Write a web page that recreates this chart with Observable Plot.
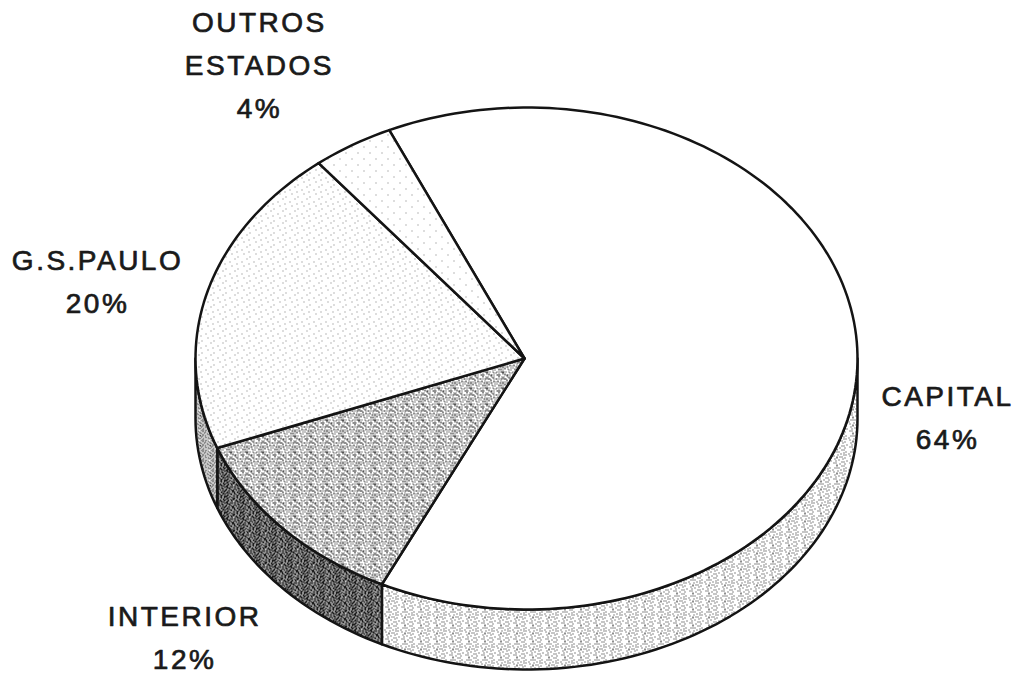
<!DOCTYPE html>
<html>
<head>
<meta charset="utf-8">
<script src="https://cdn.jsdelivr.net/npm/d3@7"></script>
<script src="https://cdn.jsdelivr.net/npm/@observablehq/plot@0.6"></script>
<style>
  html, body { margin: 0; padding: 0; background: #fff; }
  svg { display: block; }
</style>
</head>
<body>
<div id="chart"></div>
<script>
// --- data ---
const categories = ["CAPITAL", "INTERIOR", "G.S.PAULO", "OUTROS\nESTADOS"];
const shares = [64, 12, 20, 4];

// --- layout (pie units: 1 = one radius) ---
const startAngle = -24.5;       // degrees clockwise from the top of the ellipse
const depth = 0.239;
const apexX = -0.006;
const labelX = [1.272, -1.033, -1.296, -0.807];
const labelY = [0.221, 1.096, -0.323, -1.183];

const topFills = ["#fff", "url(#texMid)", "url(#texLight)", "url(#texFaint)"];
const wallFills = ["url(#texWall)", "url(#texDark)", "url(#texSide)", "none"];
const ink = "#141414";

// --- halftone tiles ---
const tiles = {
  texFaint: ["............","............","...#........","............","............","............",
             "............","............",".........#..","............","............","............"],
  texLight: ["............","...#........","............","............",".........#..","............",
             "......#.....","............","............",".#..........","............","........#..."],
  texMid:   ["..#.#...#..#....","..#.#.#.....#.#.","................","#.#.####.#..#...",
             "......#......#.#","..#...#.#.......","##.#....#.##.#..","..#.......#.....",
             "..#..#.#...#.#..","......#.....#...","#.#.##.###...#.#","..........#.....",
             ".#..#.....#..#..",".#....#.#....#.#","...##.#...##....","#.....#.#.....#."],
  texWall:  ["....#...........","....#....#.#....","................","..#.#.#......#..",
             "...........#....","#.......#.......",".....#.....#.#..",".#..............",
             "....#..#.#......","....#.......#...","..#.......#.....","......#.........",
             "...#..........#.",".........#.#....",".#.#............",".......#....#..."],
  texSide:  ["#.#..#.#..","..#.#...#.","#...#.#..#",".#.#...#..","..#..#.#.#",
             "#.#.#....#",".#...#.#..","#..#.#..#.","..#....#.#",".#.#.#...."],
  texDark:  ["###.####.#.###.#","#.###..####.##.#",".###.##.###.#.##","##.##.####.##.##",
             "#.###.##..####.#",".###.#.##.#.####","####.###.###.#.#","#.####.##.#.###.",
             ".##.###..###.###","###.#.####.##.#.","##.###.###.#.###","#.##.#.####.##.#",
             ".#####.#.##.####","##.#.###.###..##","#.###.##.#.####.","####.#..###.##.#"]
};

function makeDefs() {
  const defs = d3.create("svg:defs");
  for (const [id, rows] of Object.entries(tiles)) {
    const p = defs.append("pattern").attr("id", id)
      .attr("patternUnits", "userSpaceOnUse")
      .attr("width", rows[0].length).attr("height", rows.length);
    p.append("rect").attr("width", rows[0].length).attr("height", rows.length).attr("fill", "#fff");
    rows.forEach((row, j) => [...row].forEach((c, i) => {
      if (c === "#") p.append("rect").attr("x", i).attr("y", j)
        .attr("width", 1).attr("height", 1)
        .attr("fill", id === "texFaint" || id === "texLight" ? "#777" : "#1c1c1c");
    }));
  }
  return defs.node();
}

// --- geometry from the values ---
const rad = d => d * Math.PI / 180;
const rim = (a, dz = 0) => ({x: Math.sin(rad(a)), y: -Math.cos(rad(a)) + dz});
const arc = (a0, a1, dz = 0) => {
  const n = Math.max(2, Math.ceil(Math.abs(a1 - a0) / 1.5));
  return d3.range(n + 1).map(i => rim(a0 + (a1 - a0) * i / n, dz));
};
const total = d3.sum(shares);
let cursor = startAngle;
const slices = shares.map((v, i) => {
  const a0 = cursor, a1 = cursor + v / total * 360;
  cursor = a1;
  return {i, a0, a1};
});

const topPolys = slices.map(s => {
  const pts = [{x: apexX, y: 0}, ...arc(s.a0, s.a1), {x: apexX, y: 0}];
  return Plot.line(pts, {x: "x", y: "y", fill: topFills[s.i], stroke: ink, strokeWidth: 2.5,
    strokeLinejoin: "round", curve: "linear"});
});
const wallPolys = slices.flatMap(s => {
  const lo = Math.max(s.a0, 90), hi = Math.min(s.a1, 270);
  if (hi <= lo) return [];
  const pts = [...arc(lo, hi), ...arc(hi, lo, depth)];
  pts.push(pts[0]);
  return [Plot.line(pts, {x: "x", y: "y", fill: wallFills[s.i], stroke: ink, strokeWidth: 2.5,
    strokeLinejoin: "round", curve: "linear"})];
});

const labels = categories.map((c, i) => ({text: `${c}\n${shares[i]}%`, x: labelX[i], y: labelY[i]}));

const chart = Plot.plot({
  width: 1018,
  height: 675,
  margin: 0,
  style: {background: "#fff", letterSpacing: "2.5px"},
  x: {domain: [-1, 1], range: [195, 857], axis: null},
  y: {domain: [-1, 1], range: [107, 609], axis: null},
  marks: [
    ...wallPolys,
    ...topPolys,
    Plot.text(labels, {
      x: "x", y: "y", text: "text",
      fontFamily: "Liberation Sans, Arial, sans-serif",
      fontSize: 28,
      lineHeight: 1.53,
      lineAnchor: "middle",
      textAnchor: "middle",
      fill: "#1a1a1a",
      stroke: "#1a1a1a",
      strokeWidth: 0.7
    })
  ]
});
chart.prepend(makeDefs());
document.getElementById("chart").appendChild(chart);
</script>
</body>
</html>
